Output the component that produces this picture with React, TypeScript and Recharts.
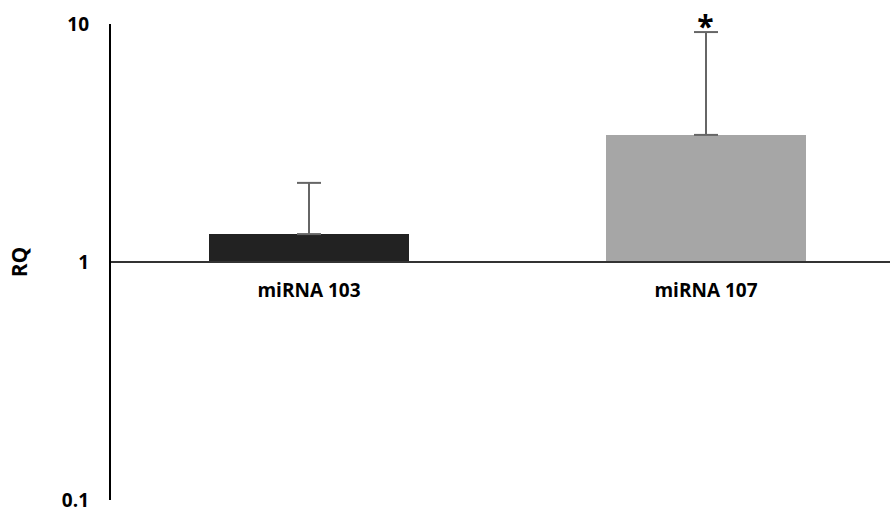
import { BarChart, Bar, Cell, XAxis, YAxis, ErrorBar, LabelList, ReferenceLine, ReferenceDot } from "recharts"

// Relative quantification per miRNA, with upper standard deviation
const categories = ["miRNA 103", "miRNA 107"]
const rqValues = [1.31, 3.42]
const rqErrors = [0.84, 5.83]
const significant = [false, true]
const barColors = ["#222222", "#a6a6a6"]
const yTicks = [0.1, 1, 10]

// Bars are drawn as ranges from RQ = 1 so they grow up from the baseline on the log axis
const data = categories.map((name, i) => ({
  name,
  rq: [1, rqValues[i]],
  err: [0, rqErrors[i]],
}))

const FONT = "'Open Sans', sans-serif"

export default function App() {
  return (
    <div style={{ position: "absolute", left: 0, top: 0, width: 890, height: 508, overflow: "hidden", background: "#fff", fontFamily: FONT }}>
      <BarChart width={904} height={508} data={data} margin={{ top: 24, right: 0, bottom: 8, left: 0 }}>
        <XAxis dataKey="name" hide />
        <YAxis
          type="number"
          scale="log"
          domain={[0.1, 10]}
          ticks={yTicks}
          interval={0}
          allowDataOverflow
          width={110}
          axisLine={{ stroke: "#000", strokeWidth: 2 }}
          tickLine={false}
          tickMargin={15}
          tickFormatter={(v: number) => String(v)}
          tick={{ fill: "#000", fontSize: 19, fontWeight: 700 }}
          label={{ value: "RQ", angle: -90, position: "center", dx: -35, fill: "#000", fontSize: 21, fontWeight: 700 }}
        />
        <ReferenceLine y={1} stroke="#333" strokeWidth={2} />
        <Bar dataKey="rq" barSize={200} isAnimationActive={false}>
          {data.map((d, i) => (
            <Cell key={d.name} fill={barColors[i]} />
          ))}
          <ErrorBar dataKey="err" direction="y" width={12} stroke="#666" strokeWidth={2} />
          <LabelList dataKey="name" position="bottom" offset={22} fill="#000" fontSize={19} fontWeight={700} />
        </Bar>
        {categories.map((name, i) =>
          significant[i] ? (
            <ReferenceDot
              key={name}
              x={name}
              y={rqValues[i] + rqErrors[i]}
              r={0}
              fill="none"
              stroke="none"
              label={{ value: "*", position: "top", offset: -5, fill: "#000", fontSize: 30, fontWeight: 700 }}
            />
          ) : null
        )}
      </BarChart>
    </div>
  )
}
